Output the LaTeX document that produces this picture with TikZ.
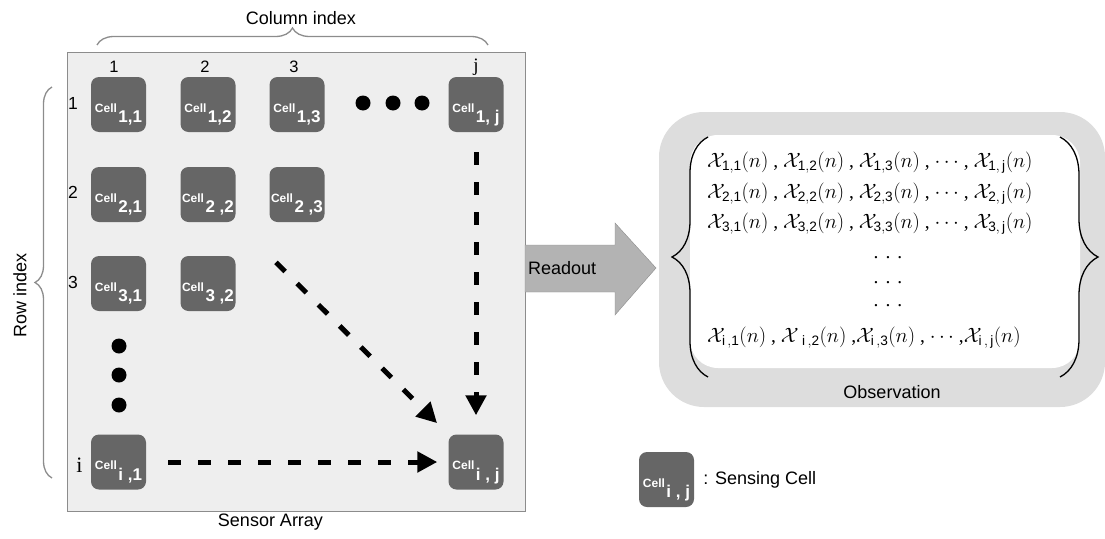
\documentclass[tikz,border=0pt]{standalone}
\usepackage{fontspec}
\setmainfont{Liberation Sans}
\newfontfamily\timesfont{Liberation Serif}
\usepackage{xcolor}
\usepackage{tikz}
\usetikzlibrary{arrows.meta}
\usetikzlibrary{decorations.pathreplacing}
\usetikzlibrary{positioning}
\definecolor{cellgray}{HTML}{666666}
\definecolor{arraybg}{HTML}{EEEEEE}
\definecolor{obsgray}{HTML}{DDDDDD}
\definecolor{arrowgray}{HTML}{B3B3B3}
\definecolor{edgegray}{HTML}{8C8C8C}
\tikzset{
  cellbox/.style={fill=cellgray, rounded corners=8pt, minimum width=55pt, minimum height=55pt, inner sep=0pt, text=white},
  flow/.style={-{Triangle[length=20pt,width=20pt]}, line width=5pt, dash pattern=on 13pt off 17pt},
  brc/.style={decorate, decoration={brace, amplitude=#1}, line width=1.3pt},
  lbl/.style={inner sep=0pt, font=\fontsize{18}{20}\selectfont},
  dot/.style={circle, fill=black, minimum size=15pt, inner sep=0pt},
  obsrow/.style={inner sep=0pt, font=\timesfont\fontsize{19.5}{22}\selectfont},
}
\newcommand{\celltext}[1]{\raisebox{-7.5pt}[0pt][0pt]{\fontsize{12}{12}\selectfont\bfseries Cell\hspace{1.5pt}\raisebox{-10.5pt}{\fontsize{17}{17}\selectfont #1}}}
\newcommand{\xo}[1]{$\mathcal{X}_{\mathrm{#1}}(n)$}

\begin{document}
\begin{tikzpicture}[x=1pt, y=-1pt]
  \useasboundingbox (0,0) rectangle (1105,538);
  % sensor array
  \node[draw=edgegray, fill=arraybg, line width=1pt, minimum width=458pt, minimum height=459pt] (array) at (296,281.5) {};
  \node[lbl] (arrname) at (270.5,522) {Sensor Array};
  \node[lbl, font=\fontsize{16.5}{16}\selectfont] (k1) at (114,67) {1};
  \node[lbl, font=\fontsize{16.5}{16}\selectfont] (k2) at (205,67) {2};
  \node[lbl, font=\fontsize{16.5}{16}\selectfont] (k3) at (294,67) {3};
  \node[lbl, font=\timesfont\fontsize{19}{19}\selectfont] (kj) at (476,67) {j};
  \node[lbl, font=\fontsize{17.5}{17}\selectfont] (l1) at (73,103.5) {1};
  \node[lbl, font=\fontsize{17.5}{17}\selectfont] (l2) at (73,192) {2};
  \node[lbl, font=\fontsize{17.5}{17}\selectfont] (l3) at (73,282.5) {3};
  \node[lbl, font=\timesfont\fontsize{22}{22}\selectfont] (li) at (79.5,465) {i};
  \node[cellbox] (c11) at (118.5,104.5) {\celltext{1,1}};
  \node[cellbox] (c12) at (208,104.5) {\celltext{1,2}};
  \node[cellbox] (c13) at (297,104.5) {\celltext{1,3}};
  \node[cellbox] (c1j) at (476,104.5) {\celltext{1, j}};
  \node[cellbox] (c21) at (118.5,194.5) {\celltext{2,1}};
  \node[cellbox] (c22) at (208,194.5) {\celltext{2 ,2}};
  \node[cellbox] (c23) at (297,194.5) {\celltext{2 ,3}};
  \node[cellbox] (c31) at (118.5,283.5) {\celltext{3,1}};
  \node[cellbox] (c32) at (208,283.5) {\celltext{3 ,2}};
  \node[cellbox] (ci1) at (118.5,462) {\celltext{i ,1}};
  \node[cellbox] (cij) at (476,462) {\celltext{i , j}};
  \node[dot] (h1) at (363,103) {};
  \node[dot] (h2) at (393,103) {};
  \node[dot] (h3) at (422,103) {};
  \node[dot] (v1) at (119,346) {};
  \node[dot] (v2) at (119,375) {};
  \node[dot] (v3) at (119,405) {};
  \draw[flow, shorten <=20pt, shorten >=19pt] (c1j) -- (cij);
  \draw[flow, shorten <=22pt, shorten >=11pt] (ci1) -- (cij);
  \draw[flow, shorten <=96pt, shorten >=55pt] (c22.center) -- (cij.center);
  % indices
  \draw[brc=17pt, edgegray] (97,45) -- (488,45);
  \node[lbl] (colidx) at (301,18) {Column index};
  \draw[brc=17pt, edgegray] (52,478) -- (52,87);
  \node[lbl, rotate=90] (rowidx) at (20,295) {Row index};
  % readout
  \filldraw[fill=arrowgray, draw=edgegray] (525,245) -- (615,245) -- (615,223) -- (656,268) -- (615,315) -- (615,292) -- (525,292) -- cycle;
  \node[lbl, anchor=west] (readout) at (528,268) {Readout};
  % observation
  \node[fill=obsgray, rounded corners=45pt, minimum width=446pt, minimum height=295pt] (obs) at (882,259.5) {};
  \node[fill=white, rounded corners=28pt, minimum width=390pt, minimum height=233pt] (obsin) at (885,251.5) {};
  \draw[brc=36pt] (708,377) -- (708,137);
  \draw[brc=38pt] (1060,137) -- (1060,377);
  \node[obsrow, anchor=base west] (r1) at (707,167) {\xo{1,1} , \xo{1,2} , \xo{1,3} , $\cdots$ , \xo{1,\,j}};
  \node[obsrow, anchor=base west] (r2) at (707,198) {\xo{2,1} , \xo{2,2} , \xo{2,3} , $\cdots$ , \xo{2,\,j}};
  \node[obsrow, anchor=base west] (r3) at (707,228) {\xo{3,1} , \xo{3,2} , \xo{3,3} , $\cdots$ , \xo{3,\,j}};
  \node[obsrow, anchor=base] (d1) at (888,258) {.\hspace{7pt}.\hspace{7pt}.};
  \node[obsrow, anchor=base] (d2) at (888,283) {.\hspace{7pt}.\hspace{7pt}.};
  \node[obsrow, anchor=base] (d3) at (888,306) {.\hspace{7pt}.\hspace{7pt}.};
  \node[obsrow, anchor=base west] (ri) at (707,342) {\xo{i\,,1} , $\mathcal{X}\,_{\mathrm{i\,,2}}(n)$ ,\xo{i\,,3} , $\cdots$ ,\xo{i\,,\,j}};
  \node[lbl] (obsname) at (892,392) {Observation};
  % legend
  \node[cellbox] (leg) at (666.5,479.5) {\celltext{i , j}};
  \node[lbl, right=9pt of leg] (legtxt) {: Sensing Cell};
\end{tikzpicture}
\end{document}
